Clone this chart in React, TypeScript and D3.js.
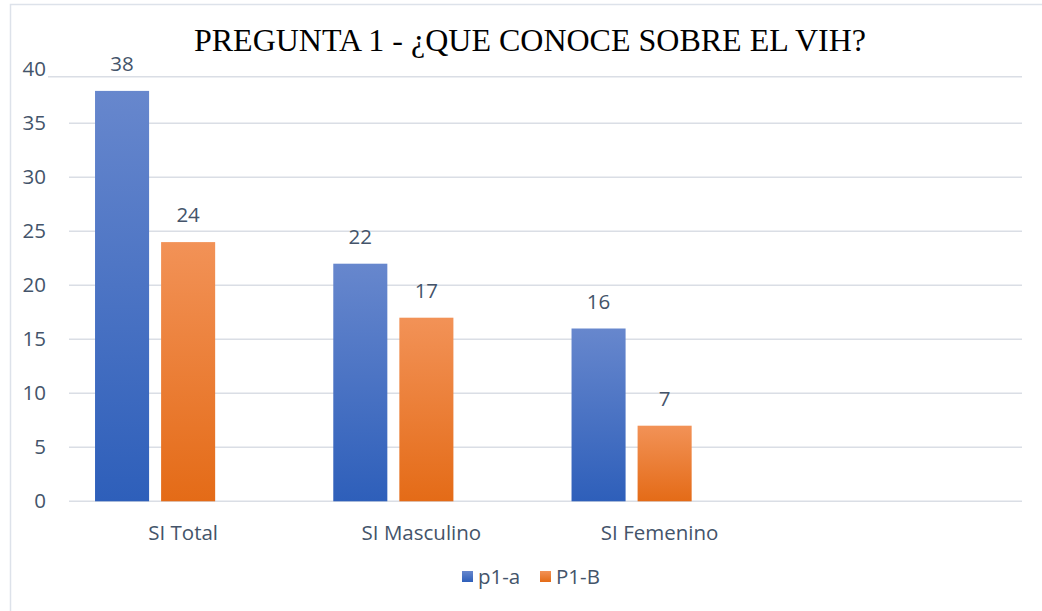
import { useEffect, useRef } from "react";
import * as d3 from "d3";

const categories = ["SI Total", "SI Masculino", "SI Femenino", ""];
const seriesNames = ["p1-a", "P1-B", ""];
const p1a = [38, 22, 16];
const p1b = [24, 17, 7];
const yTicks = [0, 5, 10, 15, 20, 25, 30, 35, 40];

const colors = {
  "p1-a": ["#6787cd", "#2e5fba"],
  "P1-B": ["#f29257", "#e46b17"],
};

const W = 1042;
const H = 611;
const textColor = "#44546a";
const font = "'Open Sans', Lato, sans-serif";
const fs = 20.5;

export default function App() {
  const ref = useRef<SVGSVGElement | null>(null);

  useEffect(() => {
    if (!ref.current) return;
    const svg = d3.select(ref.current);
    svg.selectAll("*").remove();

    const left = 69;
    const right = 1022;
    const x0 = d3.scaleBand().domain(categories).range([left, right]);
    const x1 = d3
      .scaleBand()
      .domain(seriesNames)
      .range([0, x0.bandwidth()])
      .paddingInner(12 / 66)
      .paddingOuter(0.394);
    const y = d3.scaleLinear().domain([0, 40]).range([501.3, 69.3]);

    const defs = svg.append("defs");
    Object.entries(colors).forEach(([k, [c1, c2]], i) => {
      const g = defs
        .append("linearGradient")
        .attr("id", "grad" + i)
        .attr("x1", 0)
        .attr("y1", 0)
        .attr("x2", 0)
        .attr("y2", 1);
      g.append("stop").attr("offset", "0%").attr("stop-color", c1);
      g.append("stop").attr("offset", "100%").attr("stop-color", c2);
    });

    svg.append("rect").attr("width", W).attr("height", H).attr("fill", "#fff");

    // chart border (top and left visible)
    svg
      .append("path")
      .attr("d", `M10.5,${H}V4.5H${W}`)
      .attr("fill", "none")
      .attr("stroke", "#dde2ea")
      .attr("stroke-width", 1.5);

    // gridlines
    svg
      .append("g")
      .selectAll("line")
      .data(yTicks.filter((t) => t < 40))
      .join("line")
      .attr("x1", left)
      .attr("x2", right)
      .attr("y1", (d) => y(d))
      .attr("y2", (d) => y(d))
      .attr("stroke", "#dadee5")
      .attr("stroke-width", 1.5);

    // title box bottom edge
    svg
      .append("line")
      .attr("x1", 48)
      .attr("x2", right)
      .attr("y1", 76.7)
      .attr("y2", 76.7)
      .attr("stroke", "#dadee5")
      .attr("stroke-width", 1.5);

    // y tick labels
    svg
      .append("g")
      .selectAll("text")
      .data(yTicks)
      .join("text")
      .attr("x", 46)
      .attr("y", (d) => y(d) + 7)
      .attr("text-anchor", "end")
      .attr("font-family", font)
      .attr("font-size", fs)
      .attr("fill", textColor)
      .text((d) => d);

    const rows = categories.slice(0, 3).map((c, i) => ({
      cat: c,
      vals: [
        { key: "p1-a", v: p1a[i] },
        { key: "P1-B", v: p1b[i] },
      ],
    }));

    const grp = svg
      .append("g")
      .selectAll("g")
      .data(rows)
      .join("g")
      .attr("transform", (d) => `translate(${x0(d.cat)},0)`);

    grp
      .selectAll("rect")
      .data((d) => d.vals)
      .join("rect")
      .attr("x", (d) => x1(d.key)!)
      .attr("y", (d) => y(d.v))
      .attr("width", x1.bandwidth())
      .attr("height", (d) => y(0) - y(d.v))
      .attr("fill", (d) => (d.key === "p1-a" ? "url(#grad0)" : "url(#grad1)"));

    grp
      .selectAll("text")
      .data((d) => d.vals)
      .join("text")
      .attr("x", (d) => x1(d.key)! + x1.bandwidth() / 2)
      .attr("y", (d) => y(d.v) - 20)
      .attr("text-anchor", "middle")
      .attr("font-family", font)
      .attr("font-size", fs)
      .attr("fill", textColor)
      .text((d) => d.v);

    // category labels
    svg
      .append("g")
      .selectAll("text")
      .data(categories.filter((c) => c))
      .join("text")
      .attr("x", (d) => x0(d)! + x0.bandwidth() / 2 - 5)
      .attr("y", 540)
      .attr("text-anchor", "middle")
      .attr("font-family", font)
      .attr("font-size", fs)
      .attr("fill", textColor)
      .text((d) => d);

    // title
    svg
      .append("text")
      .attr("x", 530)
      .attr("y", 51)
      .attr("text-anchor", "middle")
      .attr("font-family", "'Liberation Serif', 'Times New Roman', serif")
      .attr("font-size", 32)
      .attr("fill", "#000")
      .text("PREGUNTA 1 - ¿QUE CONOCE SOBRE EL VIH?");

    // legend
    const legendItems = [
      { key: "p1-a", x: 462, grad: "url(#grad0)" },
      { key: "P1-B", x: 540, grad: "url(#grad1)" },
    ];
    const lg = svg
      .append("g")
      .selectAll("g")
      .data(legendItems)
      .join("g")
      .attr("transform", (d) => `translate(${d.x},0)`);
    lg.append("rect")
      .attr("y", 571)
      .attr("width", 11)
      .attr("height", 11)
      .attr("fill", (d) => d.grad);
    lg.append("text")
      .attr("x", 16)
      .attr("y", 584)
      .attr("font-family", font)
      .attr("font-size", fs)
      .attr("fill", textColor)
      .text((d) => d.key);
  }, []);

  return (
    <svg
      ref={ref}
      width={W}
      height={H}
      style={{ position: "absolute", left: 0, top: 0 }}
    />
  );
}
